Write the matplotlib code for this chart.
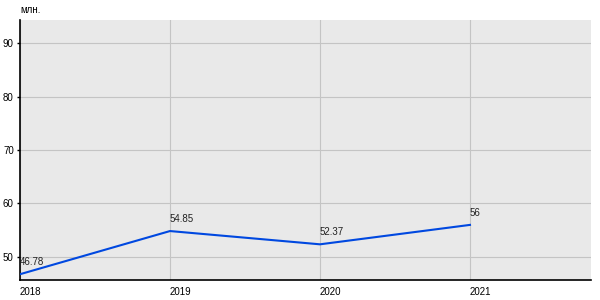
import matplotlib
matplotlib.use("Agg")
import matplotlib.pyplot as plt

years = [2018, 2019, 2020, 2021]
values = [46.78, 54.85, 52.37, 56]
labels = ["46.78", "54.85", "52.37", "56"]
yticks = [50, 60, 70, 80, 90]

plt.rcParams['font.family'] = ['Liberation Sans', 'DejaVu Sans']

fig = plt.figure(figsize=(6, 3), dpi=100)
ax = fig.add_axes([20 / 600, 20 / 300, 571 / 600, 260 / 300])
ax.set_facecolor('#e9e9e9')

ax.plot(years, values, color='#0048e0', lw=1.5, zorder=3)
for x, y, s in zip(years, values, labels):
    ax.annotate(s, (x, y), xytext=(0, 5), textcoords='offset points',
                ha='left', va='bottom', fontsize=7, color='#222222')

ax.set_xlim(2018, 2021.807)
ax.set_ylim(45.7, 94.3)
ax.set_xticks(years)
ax.set_xticklabels([str(y) for y in years], ha='left')
ax.set_yticks(yticks)
ax.grid(True, color='#c4c4c4', lw=0.8)
ax.set_axisbelow(True)

for s in ['top', 'right']:
    ax.spines[s].set_visible(False)
ax.spines['left'].set_linewidth(1.2)
ax.spines['bottom'].set_linewidth(1.2)
ax.tick_params(axis='x', length=0, labelsize=7, pad=5)
ax.tick_params(axis='y', length=2.5, width=1, labelsize=7, pad=2)

fig.text(20 / 600, 1 - 10 / 300, 'млн.', fontsize=7, va='center', ha='left')

fig.savefig('out.png', dpi=100)
